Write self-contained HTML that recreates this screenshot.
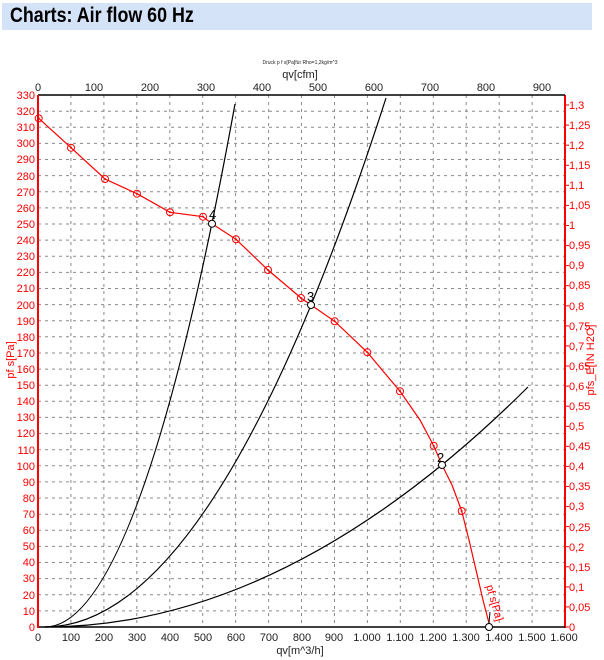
<!DOCTYPE html>
<html><head><meta charset="utf-8"><style>
html,body{margin:0;padding:0;background:#fff;width:604px;height:660px;overflow:hidden}
.title{position:absolute;left:2px;top:3px;width:590px;height:27px;background:#d5e3f8;}
.title span{position:absolute;left:8px;top:1px;font-family:"Liberation Sans",sans-serif;font-weight:bold;font-size:21px;color:#000;transform:scaleX(0.85);transform-origin:0 0;white-space:nowrap}
svg{position:absolute;left:0;top:0}
</style></head><body>
<div class="title"><span>Charts: Air flow 60 Hz</span></div>
<svg width="604" height="660" xmlns="http://www.w3.org/2000/svg" font-family="Liberation Sans, sans-serif">
<g stroke="#8a8a8a" stroke-width="1" stroke-dasharray="3,4">
<line x1="70.9" y1="95" x2="70.9" y2="627"/><line x1="103.9" y1="95" x2="103.9" y2="627"/><line x1="136.8" y1="95" x2="136.8" y2="627"/><line x1="169.8" y1="95" x2="169.8" y2="627"/><line x1="202.7" y1="95" x2="202.7" y2="627"/><line x1="235.6" y1="95" x2="235.6" y2="627"/><line x1="268.6" y1="95" x2="268.6" y2="627"/><line x1="301.5" y1="95" x2="301.5" y2="627"/><line x1="334.5" y1="95" x2="334.5" y2="627"/><line x1="367.4" y1="95" x2="367.4" y2="627"/><line x1="400.3" y1="95" x2="400.3" y2="627"/><line x1="433.3" y1="95" x2="433.3" y2="627"/><line x1="466.2" y1="95" x2="466.2" y2="627"/><line x1="499.2" y1="95" x2="499.2" y2="627"/><line x1="532.1" y1="95" x2="532.1" y2="627"/>
</g>
<g stroke="#8a8a8a" stroke-width="1" stroke-dasharray="3,4">
<line x1="38" x2="565" y1="610.9" y2="610.9"/><line x1="38" x2="565" y1="594.8" y2="594.8"/><line x1="38" x2="565" y1="578.6" y2="578.6"/><line x1="38" x2="565" y1="562.5" y2="562.5"/><line x1="38" x2="565" y1="546.4" y2="546.4"/><line x1="38" x2="565" y1="530.3" y2="530.3"/><line x1="38" x2="565" y1="514.2" y2="514.2"/><line x1="38" x2="565" y1="498.0" y2="498.0"/><line x1="38" x2="565" y1="481.9" y2="481.9"/><line x1="38" x2="565" y1="465.8" y2="465.8"/><line x1="38" x2="565" y1="449.7" y2="449.7"/><line x1="38" x2="565" y1="433.6" y2="433.6"/><line x1="38" x2="565" y1="417.4" y2="417.4"/><line x1="38" x2="565" y1="401.3" y2="401.3"/><line x1="38" x2="565" y1="385.2" y2="385.2"/><line x1="38" x2="565" y1="369.1" y2="369.1"/><line x1="38" x2="565" y1="353.0" y2="353.0"/><line x1="38" x2="565" y1="336.8" y2="336.8"/><line x1="38" x2="565" y1="320.7" y2="320.7"/><line x1="38" x2="565" y1="304.6" y2="304.6"/><line x1="38" x2="565" y1="288.5" y2="288.5"/><line x1="38" x2="565" y1="272.4" y2="272.4"/><line x1="38" x2="565" y1="256.2" y2="256.2"/><line x1="38" x2="565" y1="240.1" y2="240.1"/><line x1="38" x2="565" y1="224.0" y2="224.0"/><line x1="38" x2="565" y1="207.9" y2="207.9"/><line x1="38" x2="565" y1="191.8" y2="191.8"/><line x1="38" x2="565" y1="175.6" y2="175.6"/><line x1="38" x2="565" y1="159.5" y2="159.5"/><line x1="38" x2="565" y1="143.4" y2="143.4"/><line x1="38" x2="565" y1="127.3" y2="127.3"/><line x1="38" x2="565" y1="111.2" y2="111.2"/>
</g>
<g fill="#ff0000" font-size="11" text-anchor="end">
<text x="35" y="631">0</text><text x="35" y="615">10</text><text x="35" y="599">20</text><text x="35" y="582">30</text><text x="35" y="566">40</text><text x="35" y="550">50</text><text x="35" y="534">60</text><text x="35" y="518">70</text><text x="35" y="502">80</text><text x="35" y="486">90</text><text x="35" y="470">100</text><text x="35" y="454">110</text><text x="35" y="437">120</text><text x="35" y="421">130</text><text x="35" y="405">140</text><text x="35" y="389">150</text><text x="35" y="373">160</text><text x="35" y="357">170</text><text x="35" y="341">180</text><text x="35" y="325">190</text><text x="35" y="309">200</text><text x="35" y="292">210</text><text x="35" y="276">220</text><text x="35" y="260">230</text><text x="35" y="244">240</text><text x="35" y="228">250</text><text x="35" y="212">260</text><text x="35" y="196">270</text><text x="35" y="180">280</text><text x="35" y="163">290</text><text x="35" y="147">300</text><text x="35" y="131">310</text><text x="35" y="115">320</text><text x="35" y="99">330</text>
</g>
<text x="14" y="360" fill="#ff0000" font-size="11" transform="rotate(-90 14 360)" text-anchor="middle">pf s[Pa]</text>
<g fill="#ff0000" font-size="11">
<text x="569" y="631">0</text><text x="569" y="611">0,05</text><text x="569" y="591">0,1</text><text x="569" y="571">0,15</text><text x="569" y="551">0,2</text><text x="569" y="531">0,25</text><text x="569" y="510">0,3</text><text x="569" y="490">0,35</text><text x="569" y="470">0,4</text><text x="569" y="450">0,45</text><text x="569" y="430">0,5</text><text x="569" y="410">0,55</text><text x="569" y="390">0,6</text><text x="569" y="370">0,65</text><text x="569" y="350">0,7</text><text x="569" y="330">0,75</text><text x="569" y="310">0,8</text><text x="569" y="289">0,85</text><text x="569" y="269">0,9</text><text x="569" y="249">0,95</text><text x="569" y="229">1</text><text x="569" y="209">1,05</text><text x="569" y="189">1,1</text><text x="569" y="169">1,15</text><text x="569" y="149">1,2</text><text x="569" y="129">1,25</text><text x="569" y="109">1,3</text>
</g>
<text x="594" y="360" fill="#ff0000" font-size="11" transform="rotate(-90 594 360)" text-anchor="middle">pfs_E[IN H2O]</text>
<g stroke="#ff0000" stroke-width="1">
<line x1="565" x2="569" y1="627" y2="627"/><line x1="565" x2="569" y1="606.9" y2="606.9"/><line x1="565" x2="569" y1="586.9" y2="586.9"/><line x1="565" x2="569" y1="566.8" y2="566.8"/><line x1="565" x2="569" y1="546.7" y2="546.7"/><line x1="565" x2="569" y1="526.6" y2="526.6"/><line x1="565" x2="569" y1="506.6" y2="506.6"/><line x1="565" x2="569" y1="486.5" y2="486.5"/><line x1="565" x2="569" y1="466.4" y2="466.4"/><line x1="565" x2="569" y1="446.3" y2="446.3"/><line x1="565" x2="569" y1="426.3" y2="426.3"/><line x1="565" x2="569" y1="406.2" y2="406.2"/><line x1="565" x2="569" y1="386.1" y2="386.1"/><line x1="565" x2="569" y1="366.0" y2="366.0"/><line x1="565" x2="569" y1="345.9" y2="345.9"/><line x1="565" x2="569" y1="325.9" y2="325.9"/><line x1="565" x2="569" y1="305.8" y2="305.8"/><line x1="565" x2="569" y1="285.7" y2="285.7"/><line x1="565" x2="569" y1="265.6" y2="265.6"/><line x1="565" x2="569" y1="245.6" y2="245.6"/><line x1="565" x2="569" y1="225.5" y2="225.5"/><line x1="565" x2="569" y1="205.4" y2="205.4"/><line x1="565" x2="569" y1="185.3" y2="185.3"/><line x1="565" x2="569" y1="165.3" y2="165.3"/><line x1="565" x2="569" y1="145.2" y2="145.2"/><line x1="565" x2="569" y1="125.1" y2="125.1"/><line x1="565" x2="569" y1="105" y2="105"/>
</g>
<line x1="565" y1="95" x2="565" y2="628" stroke="#ff0000" stroke-width="2"/>
<line x1="38" y1="95" x2="565" y2="95" stroke="#000" stroke-width="1.5"/>
<g fill="#222" font-size="11" text-anchor="middle">
<text x="38" y="91">0</text><text x="94" y="91">100</text><text x="150" y="91">200</text><text x="206" y="91">300</text><text x="262" y="91">400</text><text x="318" y="91">500</text><text x="374" y="91">600</text><text x="430" y="91">700</text><text x="486" y="91">800</text><text x="542" y="91">900</text>
<text x="300" y="78" font-size="11">qv[cfm]</text>
<text x="300" y="64" font-size="5">Druck p f s[Pa]für Rho=1,2kg/m^3</text>
</g>
<line x1="38" y1="627" x2="565" y2="627" stroke="#000" stroke-width="1.5"/>
<g fill="#222" font-size="11" text-anchor="middle">
<text x="38" y="641">0</text><text x="71" y="641">100</text><text x="104" y="641">200</text><text x="137" y="641">300</text><text x="170" y="641">400</text><text x="203" y="641">500</text><text x="236" y="641">600</text><text x="269" y="641">700</text><text x="302" y="641">800</text><text x="334" y="641">900</text><text x="367" y="641">1.000</text><text x="400" y="641">1.100</text><text x="433" y="641">1.200</text><text x="466" y="641">1.300</text><text x="499" y="641">1.400</text><text x="532" y="641">1.500</text><text x="564" y="641">1.600</text>
<text x="300" y="654">qv[m^3/h]</text>
</g>
<line x1="38" y1="95" x2="38" y2="628" stroke="#ff0000" stroke-width="2"/>
<g fill="none" stroke="#000" stroke-width="1.2">
<path d="M45,627 Q140,627 235,104"/>
<path d="M45,627 Q215.5,627 386,98"/>
<path d="M45,627 Q286.5,627 528,387"/>
</g>
<polyline fill="none" stroke="#ff0000" stroke-width="1.2" points="38.7,118.3 71,147.7 105,179 137,193.7 170,212.3 203,216.7 212,223.7 236,239.3 268,270 301,298 311,305 334.7,321.3 367.3,352.3 400,391.3 420,420 433.7,445.7 442,465 452,485 461.7,511 469,540 476,570 483,600 490,627"/>
<g fill="none" stroke="#ff0000" stroke-width="1">
<circle cx="38.7" cy="118.3" r="3.5"/><circle cx="71" cy="147.7" r="3.5"/><circle cx="105" cy="179" r="3.5"/><circle cx="137" cy="193.7" r="3.5"/><circle cx="170" cy="212.3" r="3.5"/><circle cx="203" cy="216.7" r="3.5"/><circle cx="236" cy="239.3" r="3.5"/><circle cx="268" cy="270" r="3.5"/><circle cx="301" cy="298" r="3.5"/><circle cx="334.7" cy="321.3" r="3.5"/><circle cx="367.3" cy="352.3" r="3.5"/><circle cx="400" cy="391.3" r="3.5"/><circle cx="433.7" cy="445.7" r="3.5"/><circle cx="461.7" cy="511" r="3.5"/>
</g>
<g fill="#ff0000">
<circle cx="38.7" cy="118.3" r="1"/><circle cx="71" cy="147.7" r="1"/><circle cx="105" cy="179" r="1"/><circle cx="137" cy="193.7" r="1"/><circle cx="170" cy="212.3" r="1"/><circle cx="203" cy="216.7" r="1"/><circle cx="236" cy="239.3" r="1"/><circle cx="268" cy="270" r="1"/><circle cx="301" cy="298" r="1"/><circle cx="334.7" cy="321.3" r="1"/><circle cx="367.3" cy="352.3" r="1"/><circle cx="400" cy="391.3" r="1"/><circle cx="433.7" cy="445.7" r="1"/><circle cx="461.7" cy="511" r="1"/>
</g>
<text x="486" y="586" fill="#ff0000" font-size="11" transform="rotate(74 486 586)">pf s[Pa]</text>
<g fill="#fff" stroke="#000" stroke-width="1">
<circle cx="212" cy="223.7" r="3.5"/><circle cx="311" cy="305" r="3.5"/><circle cx="442" cy="465" r="3.5"/><circle cx="489" cy="627" r="3.5"/>
</g>
<line x1="489" y1="623" x2="490" y2="612" stroke="#000" stroke-width="1"/>
<g fill="#000" font-size="13">
<text x="209" y="219">4</text><text x="307" y="301">3</text><text x="437" y="462">2</text>
</g>
</svg>
</body></html>
